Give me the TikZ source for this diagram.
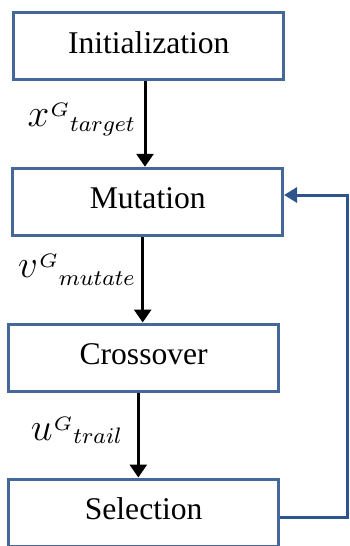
\documentclass[tikz,border=0pt]{standalone}
\usepackage{graphicx}
\usepackage{fontspec}
\setmainfont{Liberation Serif}
\usetikzlibrary{arrows.meta}

\definecolor{boxline}{RGB}{70,104,152}
\definecolor{loopline}{RGB}{45,84,140}

% italic vector symbol: letter, superscript G, then a subscript set after it
\newcommand{\vecsym}[3][2.5pt]{%
  \fontsize{12}{14}\selectfont
  \scalebox{1.625}{$#2$}%
  \kern0.6pt\raisebox{4.75pt}{\scalebox{1.625}{$\scriptscriptstyle G$}}%
  \kern0.6pt\raisebox{-#1}{\scalebox{1.4}{$\scriptstyle #3$}}}

\tikzset{
  stage/.style={draw=boxline, line width=1.5pt, fill=white, inner sep=0pt,
    minimum width=134.8pt, minimum height=33.5pt,
    text height=11pt, text depth=4pt,
    font=\fontsize{15.8}{18}\selectfont},
  flow/.style={draw=black, line width=1.5pt,
    -{Triangle[width=8.5pt,length=6.5pt]}},
  loop/.style={draw=loopline, line width=1.5pt,
    -{Triangle[width=7.5pt,length=6.5pt]}},
  vlabel/.style={anchor=base east, inner sep=0pt}
}

\begin{document}
\begin{tikzpicture}[x=0.5pt, y=-0.5pt]
  \useasboundingbox (0,0) rectangle (349,546);

  % process stages
  \node[stage] (init) at (148.75,46)    {Initialization};
  \node[stage] (mut)  at (147.75,201.75) {Mutation};
  \node[stage] (cross) at (143.65,357.5) {Crossover};
  \node[stage] (sel)  at (143.65,512.5) {Selection};

  % columns of the downward arrows
  \coordinate (a1) at (145,0);
  \coordinate (a2) at (142.7,0);
  \coordinate (a3) at (138.3,0);

  \draw[flow] (init.south -| a1) -- (mut.north -| a1);
  \draw[flow] (mut.south -| a2) -- (cross.north -| a2);
  \draw[flow] (cross.south -| a3) -- (sel.north -| a3);

  % vector labels
  \node[vlabel] (lx) at (135,126) {\vecsym{x}{target}};
  \node[vlabel] (lv) at (135,277) {\vecsym[4pt]{v}{mutate}};
  \node[vlabel] (lu) at (122,440) {\vecsym[1.5pt]{u}{trail}};

  % feedback loop from selection back to mutation
  \coordinate (fbBot) at (347.5,517);
  \coordinate (fbTop) at (347.5,195);
  \draw[loop] (sel.east |- fbBot) -- (fbBot) -- (fbTop) -- (mut.east |- fbTop);
\end{tikzpicture}
\end{document}
